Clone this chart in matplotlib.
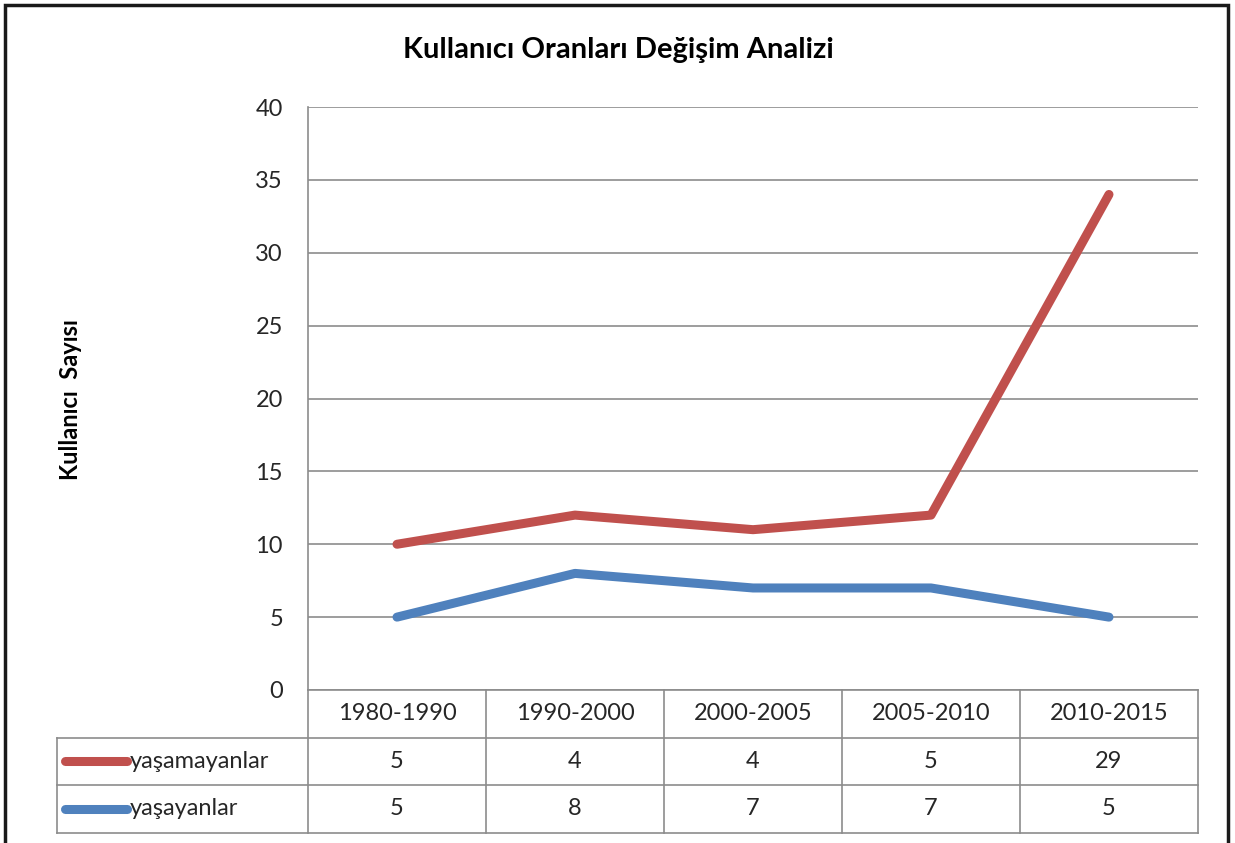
import matplotlib
matplotlib.use("Agg")
import matplotlib.pyplot as plt
import matplotlib.transforms as mtransforms
import numpy as np
from matplotlib.patches import Rectangle

# data
categories = ["1980-1990", "1990-2000", "2000-2005", "2005-2010", "2010-2015"]
series_names = ["yaşamayanlar", "yaşayanlar"]
yasamayanlar = [5, 4, 4, 5, 29]
yasayanlar = [5, 8, 7, 7, 5]
yticks = [0, 5, 10, 15, 20, 25, 30, 35, 40]

RED = "#C0504D"
BLUE = "#4F81BD"
GRID = "#8C8C8C"
TEXT = "#262626"
FS = 17

W, H = 1235, 843
fig = plt.figure(figsize=(W / 100, H / 100), dpi=100)
plt.rcParams["font.family"] = ["Lato", "DejaVu Sans"]

# plot area in pixels
px_l, px_r, px_t, px_b = 308, 1198, 107, 690
ax = fig.add_axes([px_l / W, 1 - px_b / H, (px_r - px_l) / W, (px_b - px_t) / H])

x = np.arange(len(categories))
# stacked line chart: blue at bottom, red stacked on top
blue_line = np.array(yasayanlar)
red_line = blue_line + np.array(yasamayanlar)
ax.plot(x, red_line, color=RED, lw=6.5, solid_capstyle="round", solid_joinstyle="round", zorder=3)
ax.plot(x, blue_line, color=BLUE, lw=6.5, solid_capstyle="round", solid_joinstyle="round", zorder=3)

ax.set_xlim(-0.5, len(categories) - 0.5)
ax.set_ylim(0, 40)
ax.set_yticks(yticks)
ax.set_yticklabels([str(v) for v in yticks], fontsize=FS, color=TEXT)
ax.tick_params(axis="y", length=0, pad=18)
ax.set_xticks([])
ax.grid(axis="y", color=GRID, lw=1.2)
for s in ("top", "right", "bottom"):
    ax.spines[s].set_visible(False)
ax.spines["left"].set_color(GRID)
ax.spines["left"].set_linewidth(1.2)

# data table below the plot
row_h = 47.5 / (px_b - px_t)
trans = mtransforms.blended_transform_factory(ax.transData, ax.transAxes)
xl = (57 - px_l) / ((px_r - px_l) / len(categories)) - 0.5
n = len(categories)
lk = dict(color=GRID, lw=1.2, transform=trans, clip_on=False)
# horizontal lines
ax.plot([-0.5, n - 0.5], [0, 0], **lk)
for k in (1, 2, 3):
    ax.plot([xl, n - 0.5], [-k * row_h, -k * row_h], **lk)
# vertical lines
for b in np.arange(-0.5, n, 1.0):
    ax.plot([b, b], [0, -3 * row_h], **lk)
ax.plot([xl, xl], [-row_h, -3 * row_h], **lk)

for i, c in enumerate(categories):
    ax.text(i, -0.5 * row_h, c, ha="center", va="center", fontsize=FS, color=TEXT, transform=trans)
    ax.text(i, -1.5 * row_h, str(yasamayanlar[i]), ha="center", va="center", fontsize=FS, color=TEXT, transform=trans)
    ax.text(i, -2.5 * row_h, str(yasayanlar[i]), ha="center", va="center", fontsize=FS, color=TEXT, transform=trans)

# legend keys inside the table
unit = (px_r - px_l) / n
for k, (name, col) in enumerate(zip(series_names, [RED, BLUE])):
    yk = -(1.5 + k) * row_h
    x0 = xl + 8 / unit
    x1 = xl + 70 / unit
    ax.plot([x0, x1], [yk, yk], color=col, lw=6.5, solid_capstyle="round", transform=trans, clip_on=False)
    ax.text(x1 + 3 / unit, yk, name, ha="left", va="center", fontsize=FS, color=TEXT, transform=trans)

# title and axis label
fig.text(618 / W, 1 - 50 / H, "Kullanıcı Oranları Değişim Analizi", ha="center", va="center",
         fontsize=21, fontweight="bold", color="black")
fig.text(70 / W, 1 - 400 / H, "Kullanıcı  Sayısı", ha="center", va="center", rotation=90,
         fontsize=17, fontweight="bold", color="black")

# outer chart frame
fig.patches.append(Rectangle((5 / W, -0.05), (1228 - 5) / W, 1 - 5 / H + 0.05, transform=fig.transFigure,
                             fill=False, ec="#1a1a1a", lw=2.5))

fig.savefig("out.png", dpi=100)
